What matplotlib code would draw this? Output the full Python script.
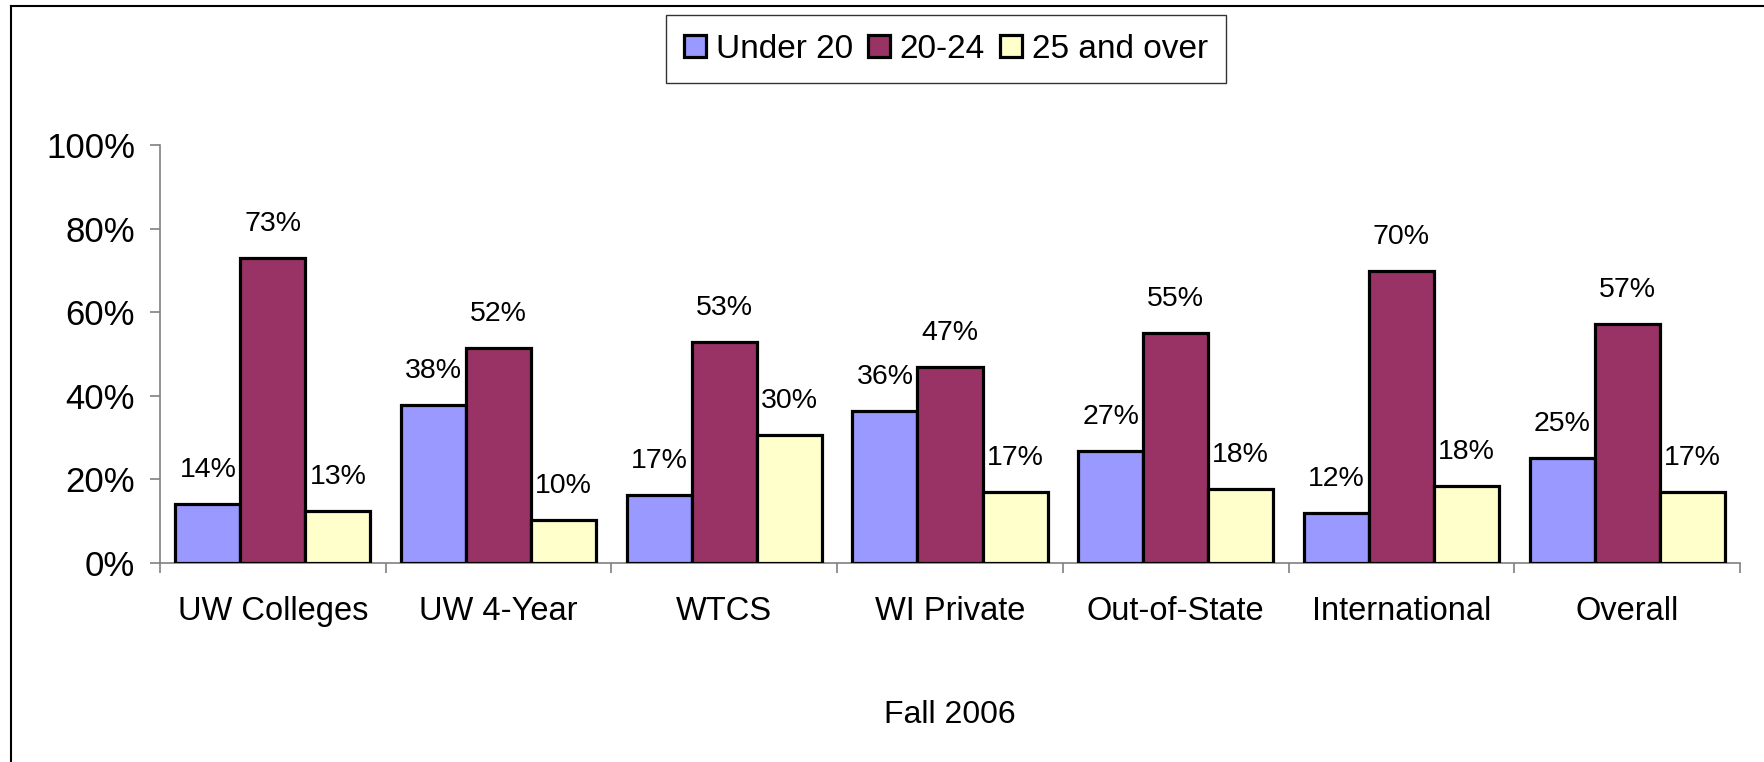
import numpy as np
import matplotlib
matplotlib.use("Agg")
import matplotlib.pyplot as plt
from matplotlib.lines import Line2D

plt.rcParams['font.family'] = ['Liberation Sans', 'DejaVu Sans']

categories = ['UW Colleges', 'UW 4-Year', 'WTCS', 'WI Private',
              'Out-of-State', 'International', 'Overall']
series_names = ['Under 20', '20-24', '25 and over']
under20 = [0.141, 0.378, 0.163, 0.364, 0.268, 0.120, 0.251]
age20_24 = [0.730, 0.514, 0.529, 0.469, 0.550, 0.698, 0.572]
over25 = [0.125, 0.103, 0.307, 0.170, 0.178, 0.184, 0.170]
labels_u20 = ['14%', '38%', '17%', '36%', '27%', '12%', '25%']
labels_2024 = ['73%', '52%', '53%', '47%', '55%', '70%', '57%']
labels_25 = ['13%', '10%', '30%', '17%', '18%', '18%', '17%']
colors = ['#9999FF', '#993366', '#FFFFCC']

fig = plt.figure(figsize=(17.65, 7.62), dpi=100)
ax = fig.add_axes([160 / 1765, 1 - 563 / 762, 1580 / 1765, 418 / 762])

x = np.arange(len(categories))
w = 0.288
all_vals = [under20, age20_24, over25]
all_labels = [labels_u20, labels_2024, labels_25]
for i, (vals, labs) in enumerate(zip(all_vals, all_labels)):
    pos = x + (i - 1) * w
    ax.bar(pos, vals, width=w, color=colors[i], edgecolor='black',
           linewidth=2.3, zorder=3)
    for px, v, t in zip(pos, vals, labs):
        ax.annotate(t, (px, v), xytext=(0, 15), textcoords='offset points',
                    ha='center', va='bottom', fontsize=20.5)

ax.set_xlim(-0.5, len(categories) - 0.5)
ax.set_ylim(0, 1)
ax.set_yticks(np.arange(0, 1.01, 0.2))
ax.set_yticklabels(['0%', '20%', '40%', '60%', '80%', '100%'], fontsize=25)
ax.set_xticks(x)
ax.set_xticklabels(categories, fontsize=23.5)
ax.set_xticks(np.arange(-0.5, len(categories), 1), minor=True)
ax.tick_params(axis='x', which='major', length=0, pad=24)
ax.tick_params(axis='x', which='minor', length=7, width=1.2, color='#808080', direction='out')
ax.tick_params(axis='y', length=7, width=1.2, color='#808080', pad=11)
for s in ['top', 'right']:
    ax.spines[s].set_visible(False)
for s in ['left', 'bottom']:
    ax.spines[s].set_color('#808080')
    ax.spines[s].set_linewidth(1.2)

ax.set_xlabel('Fall 2006', fontsize=23, labelpad=52)

handles = [plt.Rectangle((0, 0), 1, 1, facecolor=c, edgecolor='black', linewidth=2.3)
           for c in colors]
leg = fig.legend(handles, series_names, loc='center', bbox_to_anchor=(946 / 1765, 1 - 49 / 762),
                 ncol=3, fontsize=24, frameon=True, fancybox=False, edgecolor='black',
                 handlelength=0.65, handleheight=0.65, handletextpad=0.3, columnspacing=0.45,
                 borderpad=0.55)
leg.get_frame().set_linewidth(1.0)

# figure border (left and top only)
fig.add_artist(Line2D([11 / 1765, 11 / 1765], [0, 1 - 6 / 762], color='black', lw=1.5,
                      transform=fig.transFigure))
fig.add_artist(Line2D([11 / 1765, 1], [1 - 6 / 762, 1 - 6 / 762], color='black', lw=1.5,
                      transform=fig.transFigure))

fig.savefig('out.png', dpi=100)
